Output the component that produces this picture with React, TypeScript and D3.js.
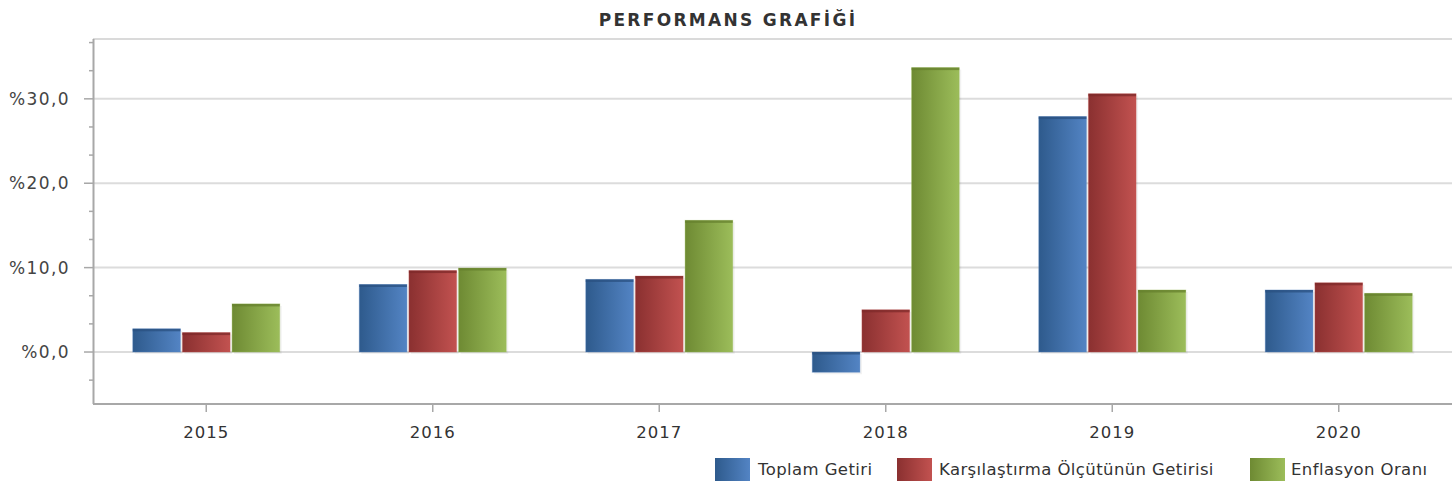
import React from "react";
import * as d3 from "d3";

const title = "PERFORMANS GRAFİĞİ";
const years = ["2015", "2016", "2017", "2018", "2019", "2020"];
const seriesNames = ["Toplam Getiri", "Karşılaştırma Ölçütünün Getirisi", "Enflasyon Oranı"];
const toplamGetiri = [2.75, 8.0, 8.6, -2.4, 27.9, 7.35];
const karsilastirma = [2.3, 9.65, 9.0, 5.0, 30.6, 8.2];
const enflasyon = [5.7, 9.95, 15.6, 33.7, 7.35, 6.95];
const majorTicks = [0, 10, 20, 30];
const minorTicks = [-10 / 3, 10 / 3, 20 / 3, 40 / 3, 50 / 3, 70 / 3, 80 / 3, 100 / 3, 110 / 3];

const seriesValues = [toplamGetiri, karsilastirma, enflasyon];
const colors = [
  { dark: "#2e5a8c", light: "#5384c4", top: "#2a5080" },
  { dark: "#8a3030", light: "#c25250", top: "#7e2a2a" },
  { dark: "#6e8a33", light: "#9cbd5a", top: "#66802e" },
];

const W = 1452;
const H = 485;
const left = 93;
const right = 1452;
const top = 39;
const bottom = 404;

export default function App() {
  const y = d3.scaleLinear().domain([-6.16, 37.09]).range([bottom, top]);
  const x = d3.scaleBand().domain(years).range([left, right]).paddingInner(0).paddingOuter(0);
  const groupW = 147;
  const fmt = (v: number) => "%" + v.toFixed(1).replace(".", ",");
  const font = "'DejaVu Sans', Verdana, sans-serif";

  return (
    <svg width={W} height={H} style={{ position: "absolute", left: 0, top: 0, background: "#fff" }}>
      <defs>
        {colors.map((c, i) => (
          <linearGradient key={i} id={`g${i}`} x1="0" x2="1" y1="0" y2="0">
            <stop offset="0%" stopColor={c.dark} />
            <stop offset="100%" stopColor={c.light} />
          </linearGradient>
        ))}
      </defs>
      <rect x={0} y={0} width={W} height={H} fill="#fff" />
      <text
        x={728}
        y={26}
        textAnchor="middle"
        fontFamily={font}
        fontWeight="bold"
        fontSize={17}
        letterSpacing={2.3}
        fill="#333"
      >
        {title}
      </text>
      {/* top border */}
      <line x1={left} x2={right} y1={top} y2={top} stroke="#dadada" strokeWidth={2} />
      {/* gridlines */}
      {majorTicks.map((t) => (
        <line key={t} x1={left} x2={right} y1={y(t)} y2={y(t)} stroke="#dcdcdc" strokeWidth={2} />
      ))}
      {/* y axis */}
      <line x1={left + 0.5} x2={left + 0.5} y1={top} y2={bottom} stroke="#a8a8a8" strokeWidth={2} />
      {majorTicks.map((t) => (
        <g key={t}>
          <line x1={84} x2={left} y1={y(t)} y2={y(t)} stroke="#a8a8a8" strokeWidth={1.5} />
          <text
            x={70}
            y={y(t) + 6}
            textAnchor="end"
            fontFamily={font}
            fontSize={17}
            letterSpacing={1.4}
            fill="#444"
          >
            {fmt(t)}
          </text>
        </g>
      ))}
      {minorTicks.map((t, i) => (
        <line key={i} x1={89} x2={left} y1={y(t)} y2={y(t)} stroke="#a8a8a8" strokeWidth={1.5} />
      ))}
      {/* x axis */}
      <line x1={left} x2={right} y1={bottom} y2={bottom} stroke="#a8a8a8" strokeWidth={2} />
      {years.map((yr) => {
        const cx = (x(yr) as number) + x.bandwidth() / 2;
        return (
          <g key={yr}>
            <line x1={cx} x2={cx} y1={bottom} y2={bottom + 8} stroke="#a8a8a8" strokeWidth={1.5} />
            <text
              x={cx}
              y={438}
              textAnchor="middle"
              fontFamily={font}
              fontSize={16.5}
              letterSpacing={1}
              fill="#333"
            >
              {yr}
            </text>
          </g>
        );
      })}
      {/* bars */}
      {years.map((yr, yi) => {
        const cx = (x(yr) as number) + x.bandwidth() / 2;
        const xs = d3
          .scaleBand()
          .domain(seriesNames)
          .range([cx - groupW / 2, cx + groupW / 2])
          .paddingInner(0.04);
        return (
          <g key={yr}>
            {seriesNames.map((s, si) => {
              const v = seriesValues[si][yi];
              const bx = xs(s) as number;
              const bw = xs.bandwidth();
              const y0 = y(0);
              const y1 = y(v);
              const ry = Math.min(y0, y1);
              const rh = Math.abs(y0 - y1);
              return (
                <g key={s}>
                  <rect x={bx + 2} y={ry + 2} width={bw} height={rh} fill="#000" opacity={0.05} />
                  <rect
                    x={bx}
                    y={ry}
                    width={bw}
                    height={rh}
                    fill={`url(#g${si})`}
                    stroke={colors[si].light}
                    strokeOpacity={0.35}
                    strokeWidth={1}
                  />
                  <rect x={bx} y={ry} width={bw} height={Math.min(2.5, rh)} fill={colors[si].top} opacity={0.75} />
                </g>
              );
            })}
          </g>
        );
      })}
      {/* legend */}
      {(() => {
        const items = [
          { x: 715, tx: 758 },
          { x: 897, tx: 939 },
          { x: 1250, tx: 1291 },
        ];
        return seriesNames.map((s, i) => (
          <g key={s}>
            <rect x={items[i].x} y={458} width={35} height={23} fill={`url(#g${i})`} />
            <text
              x={items[i].tx}
              y={475}
              fontFamily={font}
              fontSize={16.5}
              letterSpacing={0.4}
              fill="#333"
            >
              {s}
            </text>
          </g>
        ));
      })()}
    </svg>
  );
}
